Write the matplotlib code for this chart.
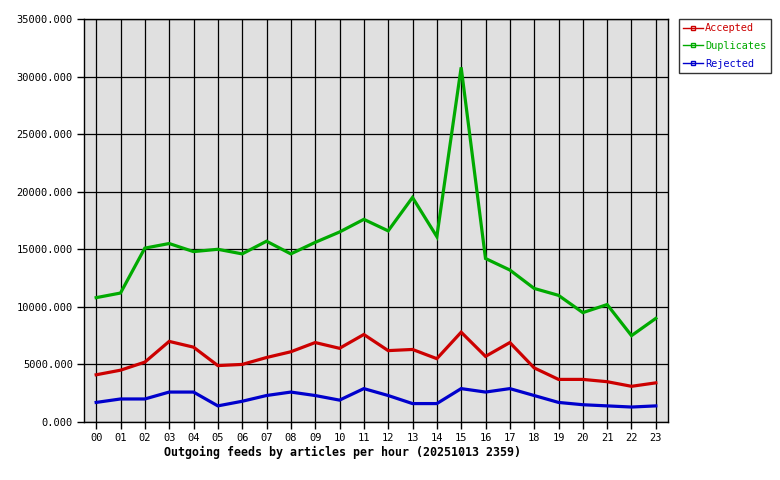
import matplotlib
matplotlib.use("Agg")
import matplotlib.pyplot as plt
from matplotlib.lines import Line2D

hours = ["00","01","02","03","04","05","06","07","08","09","10","11",
         "12","13","14","15","16","17","18","19","20","21","22","23"]
accepted = [4100,4500,5200,7000,6500,4900,5000,5600,6100,6900,6400,7600,
            6200,6300,5500,7800,5700,6900,4700,3700,3700,3500,3100,3400]
duplicates = [10800,11200,15100,15500,14800,15000,14600,15700,14600,15600,16500,17600,
              16600,19500,16100,30800,14200,13200,11600,11000,9500,10200,7500,9000]
rejected = [1700,2000,2000,2600,2600,1400,1800,2300,2600,2300,1900,2900,
            2300,1600,1600,2900,2600,2900,2300,1700,1500,1400,1300,1400]
yticks = [0,5000,10000,15000,20000,25000,30000,35000]

mono = "DejaVu Sans Mono"
fig = plt.figure(figsize=(7.8,4.8), dpi=100)
ax = fig.add_axes([84/780, 58/480, 584/780, 403/480])
ax.set_facecolor("#e0e0e0")
x = list(range(len(hours)))
cols = {"Accepted":"#cc0000","Duplicates":"#00aa00","Rejected":"#0000cc"}
for name, vals in [("Accepted",accepted),("Duplicates",duplicates),("Rejected",rejected)]:
    ax.plot(x, vals, color=cols[name], lw=2.3, zorder=3, solid_joinstyle="miter")
ax.set_xlim(-0.5, 23.5)
ax.set_ylim(0, 35000)
ax.set_xticks(x)
ax.set_xticklabels(hours, fontfamily=mono, fontsize=7.5)
ax.set_yticks(yticks)
ax.set_yticklabels([f"{v:.3f}" for v in yticks], fontfamily=mono, fontsize=7.5)
ax.grid(True, color="black", lw=0.9)
ax.set_axisbelow(True)
for s in ax.spines.values():
    s.set_color("black"); s.set_linewidth(1)
ax.tick_params(length=5, width=1, color="black", pad=3)
fig.text(343/780, 1-452/480, "Outgoing feeds by articles per hour (20251013 2359)",
         fontfamily=mono, fontsize=8.4, fontweight="bold", ha="center", va="center")
handles = [Line2D([0],[0], color=cols[n], lw=1, marker="s", markersize=3,
                  markerfacecolor="none", markeredgecolor=cols[n]) for n in cols]
leg = fig.legend(handles, list(cols.keys()), loc="upper left",
                 bbox_to_anchor=(679/780, 1-19/480), prop={"family":mono,"size":7.4},
                 frameon=True, fancybox=False, edgecolor="black", handlelength=1.9,
                 handletextpad=0.25, borderpad=0.4, labelspacing=0.75, borderaxespad=0)
leg.get_frame().set_linewidth(1)
for t, n in zip(leg.get_texts(), cols):
    t.set_color(cols[n])
fig.savefig("out.png", dpi=100, facecolor="white")
